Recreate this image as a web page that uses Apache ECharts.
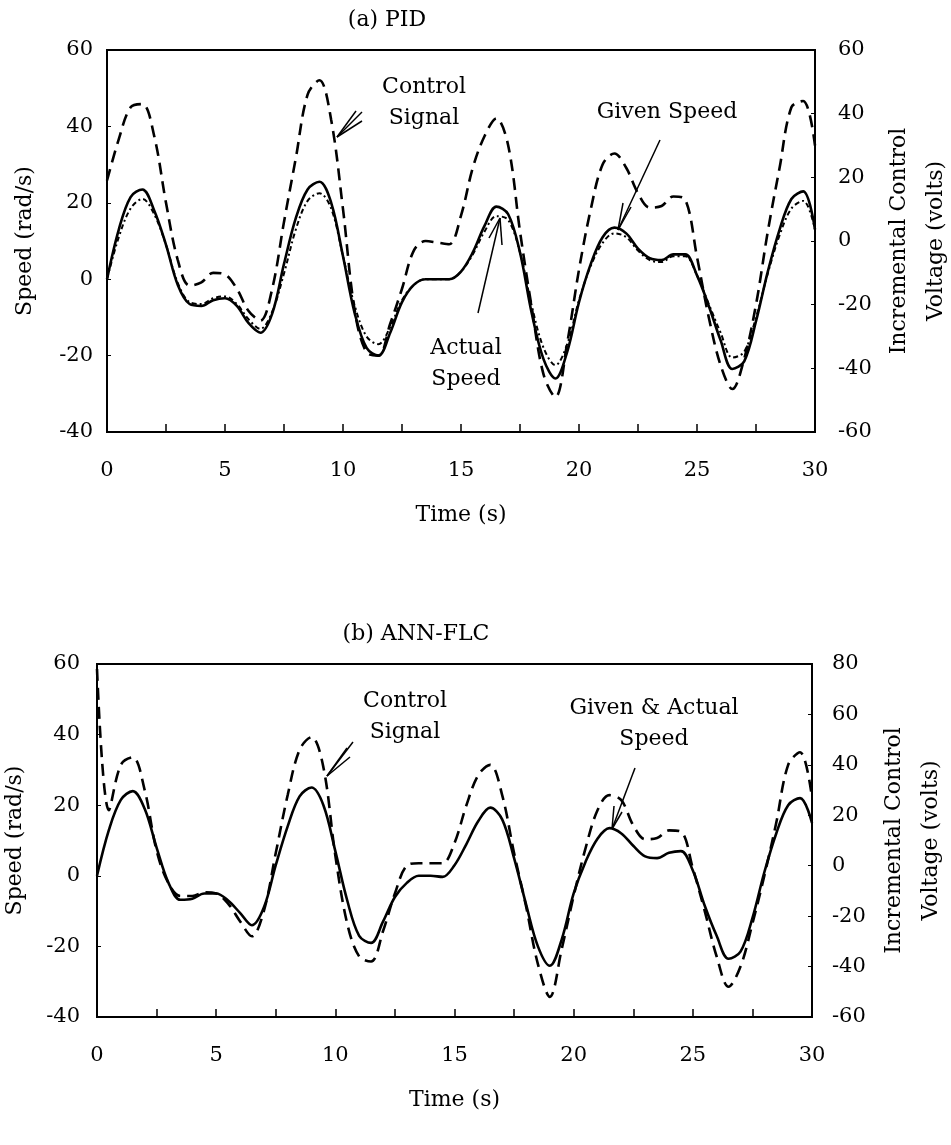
<!DOCTYPE html>
<html>
<head>
<meta charset="utf-8">
<script src="https://cdn.jsdelivr.net/npm/echarts@6/dist/echarts.min.js"></script>
<style>
html,body{margin:0;padding:0;background:#fff;}
#c{width:951px;height:1145px;}
</style>
</head>
<body>
<div id="c"></div>
<script>
// ---- data ----
const times = [0,0.5,1,1.5,2,2.5,3,3.5,4,4.5,5,5.5,6,6.5,7,7.5,8,8.5,9,9.5,10,10.5,11,11.5,12,12.5,13,13.5,14,14.5,15,15.5,16,16.5,17,17.5,18,18.5,19,19.5,20,20.5,21,21.5,22,22.5,23,23.5,24,24.5,25,25.5,26,26.5,27,27.5,28,28.5,29,29.5,30];

// (a) PID
const pidActual = [0,13,21.5,23.5,18,9,-1.5,-6.5,-7,-5.5,-5,-7,-11.5,-14,-9,4,16,23.5,25.5,20,6,-9,-18,-20,-14,-6,-1.5,0,0,0,2,7,14,19,17,7,-9,-21,-26,-19,-6,4,11,13.5,12,8,5.5,5,6.5,6.5,1,-7,-16,-23.5,-21.5,-11,2,13,21,23,13];
const pidGiven = [0,11,18.5,21,17,9,-1,-6,-6.5,-5,-4.5,-6.5,-10.5,-13,-8.5,1.5,13,20.5,22.5,18.5,6,-7,-15,-17,-12.5,-5.5,-1.5,0,0,0,2,6.5,12.5,16.5,15.5,7,-7,-18,-22.5,-17,-5.5,3.5,9.5,12,11,7.5,5,4.5,6,6,1,-6.5,-14,-20.5,-19,-10,1.5,11.5,18.5,20.5,13];
const pidControl = [19,32,42,43,33,12,-6,-14,-13,-10,-10.5,-15,-22,-25,-15,6,26,46,50.5,38,10,-22,-35,-36,-26,-15,-3,0,-0.5,-1,8,23,33,38.5,30,3,-21,-42,-49,-32,-9,10,24,27.5,23,15,10.5,11,14,13,-5,-24,-39,-46.5,-37,-20,3,23,42,44,30];

// (b) ANN-FLC
const annSpeed = [0,13,21.5,24,19,8,-2,-6.8,-6.5,-5,-5,-7,-10.5,-14,-9,3,14,22.5,25,20,7,-7,-17,-19,-13,-6,-2,0,0,-0.3,3,9,15.5,19.3,16,5,-8,-20,-25.5,-18,-5,4,10.5,13.5,12,8.5,5.5,5,6.5,7,1.5,-8.5,-17,-23.5,-21.5,-12,1,12,20,22,15];
const annControl = [78,22,40,43,30,6,-7,-12,-12,-10.5,-11,-15,-22,-28,-18,5,28,46,51,39,4,-23,-36,-38,-26,-11,0,1,1,1,9,24,36,40,28,5,-16,-39,-52,-33,-12,7,22,28,26,16,10.5,11,14,13.5,-1,-18,-36,-48,-40,-23,-4,17,40,45,27];

// tick labels
const timeTicks = [0,5,10,15,20,25,30];
const speedTicks = [-40,-20,0,20,40,60];
const voltTicksA = [-60,-40,-20,0,20,40,60];
const voltTicksB = [-60,-40,-20,0,20,40,60,80];

// ---- chart ----
const FONT = 'DejaVu Serif';
const INK = '#000';
const FW = 'normal';
const pair = v => times.map((t,i)=>[t,v[i]]);

function xAx(gi, margin){
  return {
    gridIndex: gi, type:'value', min:timeTicks[0], max:timeTicks[timeTicks.length-1], interval:2.5,
    name:'Time (s)', nameLocation:'middle', nameGap: margin+44, nameMoveOverlap:false,
    nameTextStyle:{fontFamily:FONT,fontSize:22,fontWeight:FW,color:INK},
    axisLine:{show:true,onZero:false,lineStyle:{color:INK,width:2}},
    axisTick:{show:true,inside:true,length:8,lineStyle:{color:INK,width:1.5}},
    axisLabel:{margin:margin,fontFamily:FONT,fontSize:21,fontWeight:FW,color:INK,
      formatter:v=> timeTicks.indexOf(v)>=0 ? String(v) : ''},
    splitLine:{show:false}
  };
}
function yAx(gi, ticks, pos, margin, name, gap){
  return {
    gridIndex: gi, type:'value', position:pos, min:ticks[0], max:ticks[ticks.length-1], interval:20,
    name:name, nameLocation:'middle', nameGap:gap, nameRotate:90, nameMoveOverlap:false,
    nameTextStyle:{fontFamily:FONT,fontSize:22,fontWeight:FW,color:INK,lineHeight:37},
    axisLine:{show:true,onZero:false,lineStyle:{color:INK,width:2}},
    axisTick:{show:true,inside:true,length:4,lineStyle:{color:INK,width:1}},
    axisLabel:{margin:margin,fontFamily:FONT,fontSize:21,fontWeight:FW,color:INK},
    splitLine:{show:false}
  };
}

const solid = {color:INK,width:2.6,type:'solid'};
const dashed = {color:INK,width:2.6,type:[12,7]};
const dotted = {color:INK,width:2,type:[5,3,2,3]};

function arrowFan(tip, tail, extra){
  const lines = [{type:'line',shape:{x1:tip[0],y1:tip[1],x2:tail[0],y2:tail[1]},style:{stroke:INK,lineWidth:1.5}}];
  extra.forEach(p=>lines.push({type:'line',shape:{x1:tip[0],y1:tip[1],x2:p[0],y2:p[1]},style:{stroke:INK,lineWidth:1.5}}));
  return lines;
}
function txt(x,y,s){
  return {type:'text',x:x,y:y,style:{text:s,fontFamily:FONT,fontSize:22,fontWeight:FW,fill:INK,align:'center',verticalAlign:'middle',lineHeight:31}};
}

const chart = echarts.init(document.getElementById('c'));
chart.setOption({
  backgroundColor:'#fff',
  animation:false,
  grid:[
    {left:107,top:50,width:708,height:382,outerBoundsMode:'none',containLabel:false,show:true,borderColor:INK,borderWidth:2,backgroundColor:'transparent'},
    {left:97,top:664,width:715,height:353,outerBoundsMode:'none',containLabel:false,show:true,borderColor:INK,borderWidth:2,backgroundColor:'transparent'}
  ],
  xAxis:[xAx(0,28), xAx(1,28)],
  yAxis:[
    yAx(0,speedTicks,'left',14,'Speed (rad/s)',63),
    yAx(0,voltTicksA,'right',23,'Incremental Control\nVoltage (volts)',66),
    yAx(1,speedTicks,'left',17,'Speed (rad/s)',63),
    yAx(1,voltTicksB,'right',20,'Incremental Control\nVoltage (volts)',64)
  ],
  series:[
    {type:'line',xAxisIndex:0,yAxisIndex:1,data:pair(pidControl),smooth:0.35,symbol:'none',lineStyle:dashed},
    {type:'line',xAxisIndex:0,yAxisIndex:0,data:pair(pidGiven),smooth:0.35,symbol:'none',lineStyle:dotted},
    {type:'line',xAxisIndex:0,yAxisIndex:0,data:pair(pidActual),smooth:0.35,symbol:'none',lineStyle:solid},
    {type:'line',xAxisIndex:1,yAxisIndex:3,data:pair(annControl),smooth:0.35,symbol:'none',lineStyle:dashed},
    {type:'line',xAxisIndex:1,yAxisIndex:2,data:pair(annSpeed),smooth:0.35,symbol:'none',lineStyle:solid}
  ],
  graphic:[].concat(
    [txt(387,20,'(a) PID'), txt(416,634,'(b) ANN-FLC'),
     txt(424,103,'Control\nSignal'), txt(667,112,'Given Speed'), txt(466,364,'Actual\nSpeed'),
     txt(405,717,'Control\nSignal'), txt(654,724,'Given & Actual\nSpeed')],
    arrowFan([337,137],[362,112],[[362,121],[356,111]]),
    arrowFan([618,230],[660,140],[[623,203],[631,207]]),
    arrowFan([500,218],[478,313],[[489,238],[502,245]]),
    arrowFan([327,776],[353,742],[[350,757],[347,748]]),
    arrowFan([612,829],[635,768],[[614,806],[622,812]])
  )
});
</script>
</body>
</html>
